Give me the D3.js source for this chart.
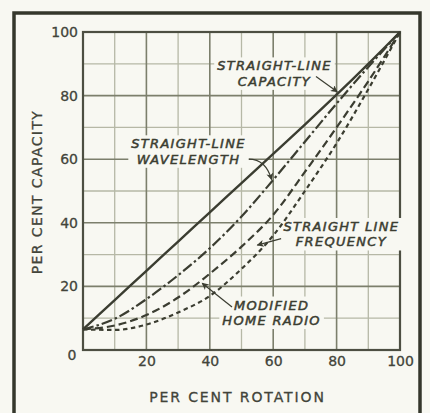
<!DOCTYPE html>
<html>
<head>
<meta charset="utf-8">
<script src="https://cdn.jsdelivr.net/npm/d3@7"></script>
<style>
  html, body { margin: 0; padding: 0; background: #f8f8f2; }
  svg { display: block; }
</style>
</head>
<body>
<div id="chart"></div>
<script>
// ---- data ----
const rotation = [0, 10, 20, 30, 40, 50, 60, 70, 80, 90, 100];
const straightLineCapacity   = [6.5, 15.7, 24.9, 34.1, 43.3, 52.5, 61.7, 70.9, 80.3, 90.0, 100];
const straightLineWavelength = [6.5, 9.8, 16.0, 23.5, 32.0, 42.0, 53.5, 65.5, 77.5, 89.0, 100];
const modifiedHomeRadio      = [6.5, 7.7, 11.0, 16.5, 24.0, 32.5, 42.5, 56.0, 70.0, 84.5, 100];
const straightLineFrequency  = [6.5, 6.3, 8.0, 11.8, 17.0, 25.5, 36.0, 50.0, 65.0, 82.0, 100];
const tickValues = [20, 40, 60, 80, 100];
const xTitle = "PER CENT ROTATION";
const yTitle = "PER CENT CAPACITY";

// annotations: text lines, label anchor (data units), arrow from/to (data units)
const annotations = [
  { lines: ["STRAIGHT-LINE", "CAPACITY"], at: [60.4, 89.5], from: [73.5, 86.0], to: [80.2, 81.2], bend: 0 },
  { lines: ["STRAIGHT-LINE", "WAVELENGTH"], at: [33.3, 65.0], from: [52.3, 60.0], to: [59.5, 53.6], bend: 1 },
  { lines: ["STRAIGHT LINE", "FREQUENCY"], at: [81.5, 39.0], from: [62.5, 35.0], to: [55.0, 33.0], bend: 0 },
  { lines: ["MODIFIED", "HOME RADIO"], at: [59.5, 14.3], from: [47.0, 13.5], to: [37.6, 21.0], bend: 0 }
];

const series = [
  { name: "Straight-line capacity", values: straightLineCapacity, dash: null },
  { name: "Straight-line wavelength", values: straightLineWavelength, dash: "11,3,2.5,3" },
  { name: "Modified home radio", values: modifiedHomeRadio, dash: "8,4" },
  { name: "Straight-line frequency", values: straightLineFrequency, dash: "4.5,3.5" }
];

// ---- drawing ----
const W = 430, H = 413;
const ink = "#3b3d31";
const bg = "#f8f8f2";
const svg = d3.select("#chart").append("svg").attr("width", W).attr("height", H);
svg.append("rect").attr("width", W).attr("height", H).attr("fill", bg);

const x = d3.scaleLinear().domain([0, 100]).range([83, 400]);
const y = d3.scaleLinear().domain([0, 100]).range([350, 32]);

// outer frame (open at bottom)
svg.append("path")
  .attr("d", `M14,${H} V13 H420 V${H}`)
  .attr("fill", "none").attr("stroke", "#35372c").attr("stroke-width", 3.5);

// grid
const gGrid = svg.append("g");
const minor = d3.range(10, 100, 20);
const major = d3.range(20, 100, 20);
gGrid.selectAll(".vmin").data(minor).join("line")
  .attr("x1", d => x(d)).attr("x2", d => x(d)).attr("y1", y(0)).attr("y2", y(100))
  .attr("stroke", "#b6b8a6").attr("stroke-width", 1.3);
gGrid.selectAll(".hmin").data(minor).join("line")
  .attr("y1", d => y(d)).attr("y2", d => y(d)).attr("x1", x(0)).attr("x2", x(100))
  .attr("stroke", "#b6b8a6").attr("stroke-width", 1.3);
gGrid.selectAll(".vmaj").data(major).join("line")
  .attr("x1", d => x(d)).attr("x2", d => x(d)).attr("y1", y(0)).attr("y2", y(100))
  .attr("stroke", "#7c7f6c").attr("stroke-width", 1.6);
gGrid.selectAll(".hmaj").data(major).join("line")
  .attr("y1", d => y(d)).attr("y2", d => y(d)).attr("x1", x(0)).attr("x2", x(100))
  .attr("stroke", "#7c7f6c").attr("stroke-width", 1.6);
gGrid.append("rect")
  .attr("x", x(0)).attr("y", y(100)).attr("width", x(100) - x(0)).attr("height", y(0) - y(100))
  .attr("fill", "none").attr("stroke", "#4d4f42").attr("stroke-width", 2.2);

// label backgrounds + texts (texts measured first)
const gLabelBg = svg.append("g");
const gLines = svg.append("g");
const gArrows = svg.append("g");
const gLabels = svg.append("g");

const labelFont = { family: "'DejaVu Sans', sans-serif", size: 13, ls: 1.3 };
annotations.forEach(a => {
  const t = gLabels.append("text")
    .attr("font-family", labelFont.family)
    .attr("font-size", labelFont.size)
    .attr("font-style", "italic")
    .attr("letter-spacing", labelFont.ls)
    .attr("fill", ink)
    .attr("stroke", ink).attr("stroke-width", 0.5)
    .attr("text-anchor", "middle");
  a.lines.forEach((ln, i) => {
    t.append("tspan")
      .attr("x", x(a.at[0]))
      .attr("y", y(a.at[1]) + 5 + i * 15.5)
      .text(ln);
  });
  const bb = t.node().getBBox();
  gLabelBg.append("rect")
    .attr("x", bb.x - 3).attr("y", bb.y - 1).attr("width", bb.width + 6).attr("height", bb.height + 2)
    .attr("fill", bg);
});

// series lines
const line = d3.line()
  .x((d, i) => x(rotation[i]))
  .y(d => y(d))
  .curve(d3.curveMonotoneX);
gLines.selectAll("path").data(series).join("path")
  .attr("d", d => line(d.values))
  .attr("fill", "none")
  .attr("stroke", ink)
  .attr("stroke-width", d => d.dash ? 2.2 : 2.4)
  .attr("stroke-dasharray", d => d.dash);

// arrows
svg.append("defs").append("marker")
  .attr("id", "ah").attr("viewBox", "0 0 10 10").attr("refX", 9).attr("refY", 5)
  .attr("markerWidth", 9).attr("markerHeight", 7).attr("markerUnits", "userSpaceOnUse")
  .attr("orient", "auto")
  .append("path").attr("d", "M0,0 L10,5 L0,10 L2.5,5 Z").attr("fill", ink);
annotations.forEach(a => {
  const x0 = x(a.from[0]), y0 = y(a.from[1]), x1 = x(a.to[0]), y1 = y(a.to[1]);
  let d;
  if (a.bend) {
    d = `M${x0},${y0} Q${x1 - 6},${y0} ${x1},${y1}`;
  } else {
    d = `M${x0},${y0} L${x1},${y1}`;
  }
  gArrows.append("path").attr("d", d).attr("fill", "none")
    .attr("stroke", ink).attr("stroke-width", 1.2).attr("marker-end", "url(#ah)");
});

// axes
const tickFont = "'DejaVu Sans', sans-serif";
const tickColor = "#42443a";
const gx = svg.append("g").attr("transform", `translate(0,${y(0)})`)
  .call(d3.axisBottom(x).tickValues(tickValues).tickSize(0).tickPadding(6).tickFormat(d3.format("d")));
const gy = svg.append("g").attr("transform", `translate(${x(0)},0)`)
  .call(d3.axisLeft(y).tickValues(tickValues).tickSize(0).tickPadding(5).tickFormat(d3.format("d")));
[gx, gy].forEach(g => {
  g.select(".domain").remove();
  g.selectAll("text").attr("font-family", tickFont).attr("font-size", 14)
    .attr("fill", tickColor).attr("stroke", tickColor).attr("stroke-width", 0.3);
});
svg.append("text")
  .attr("x", 72).attr("y", 360)
  .attr("text-anchor", "middle")
  .attr("font-family", tickFont).attr("font-size", 14)
  .attr("fill", tickColor).attr("stroke", tickColor).attr("stroke-width", 0.3)
  .text("0");

// axis titles
svg.append("text")
  .attr("x", (x(0) + x(100)) / 2 - 4).attr("y", 402)
  .attr("text-anchor", "middle")
  .attr("font-family", tickFont).attr("font-size", 14).attr("letter-spacing", 1.9)
  .attr("fill", tickColor).attr("stroke", tickColor).attr("stroke-width", 0.3)
  .text(xTitle);
svg.append("text")
  .attr("transform", `translate(42,${192}) rotate(-90)`)
  .attr("text-anchor", "middle")
  .attr("font-family", tickFont).attr("font-size", 14).attr("letter-spacing", 1.4)
  .attr("fill", tickColor).attr("stroke", tickColor).attr("stroke-width", 0.3)
  .text(yTitle);
</script>
</body>
</html>
